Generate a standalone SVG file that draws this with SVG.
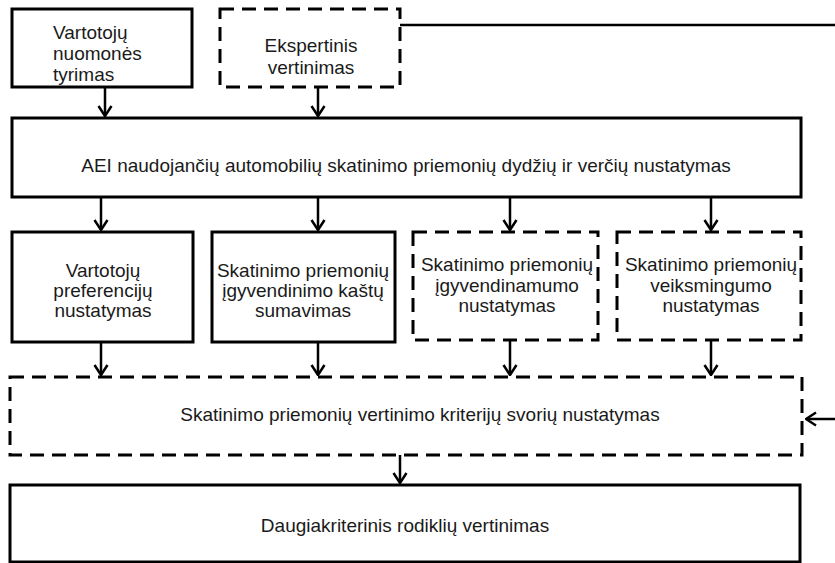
<svg xmlns="http://www.w3.org/2000/svg" width="835" height="563" viewBox="0 0 835 563">
  <style>
    .box { fill: #fff; stroke: #000; stroke-width: 3; }
    .dash { fill: #fff; stroke: #000; stroke-width: 3; stroke-dasharray: 14 8; }
    .lbl { font-family: "Liberation Sans", Arial, sans-serif; font-size: 19px; fill: #1a1a1a; }
    .mid { text-anchor: middle; }
    .conn { fill: none; stroke: #000; stroke-width: 2.5; }
  </style>
  <defs>
    <marker id="arr" viewBox="0 0 12 16" refX="11" refY="8" markerWidth="12" markerHeight="16" orient="auto" markerUnits="userSpaceOnUse">
      <path d="M1,1.5 L11,8 L1,14.5" fill="none" stroke="#000" stroke-width="2.5"/>
    </marker>
  </defs>
  <rect width="835" height="563" fill="#fff"/>

  <g id="consumer-survey">
    <rect class="box" x="12" y="9" width="180" height="78"/>
    <text class="lbl" x="53" y="39">Vartotojų</text>
    <text class="lbl" x="53" y="60">nuomonės</text>
    <text class="lbl" x="53" y="81">tyrimas</text>
  </g>

  <g id="expert-evaluation">
    <rect class="dash" x="220" y="9" width="180" height="78"/>
    <text class="lbl mid" x="311" y="52">Ekspertinis</text>
    <text class="lbl mid" x="311" y="74">vertinimas</text>
  </g>

  <g id="measures-values">
    <rect class="box" x="12" y="118" width="789" height="79"/>
    <text class="lbl mid" x="406" y="172">AEI naudojančių automobilių skatinimo priemonių dydžių ir verčių nustatymas</text>
  </g>

  <g id="consumer-preferences">
    <rect class="box" x="12" y="232" width="181" height="110"/>
    <text class="lbl mid" x="103" y="277">Vartotojų</text>
    <text class="lbl mid" x="103" y="297">preferencijų</text>
    <text class="lbl mid" x="103" y="317">nustatymas</text>
  </g>

  <g id="cost-summation">
    <rect class="box" x="212" y="232" width="183" height="110"/>
    <text class="lbl mid" x="303" y="277">Skatinimo priemonių</text>
    <text class="lbl mid" x="303" y="297">įgyvendinimo kaštų</text>
    <text class="lbl mid" x="303" y="317">sumavimas</text>
  </g>

  <g id="feasibility">
    <rect class="dash" x="413" y="232" width="185" height="108"/>
    <text class="lbl mid" x="507" y="271">Skatinimo priemonių</text>
    <text class="lbl mid" x="507" y="292">įgyvendinamumo</text>
    <text class="lbl mid" x="507" y="312">nustatymas</text>
  </g>

  <g id="effectiveness">
    <rect class="dash" x="617" y="232" width="184" height="108"/>
    <text class="lbl mid" x="711" y="271">Skatinimo priemonių</text>
    <text class="lbl mid" x="711" y="292">veiksmingumo</text>
    <text class="lbl mid" x="711" y="312">nustatymas</text>
  </g>

  <g id="criteria-weights">
    <rect class="dash" x="10" y="377" width="792" height="78"/>
    <text class="lbl mid" x="420" y="421">Skatinimo priemonių vertinimo kriterijų svorių nustatymas</text>
  </g>

  <g id="multicriteria">
    <rect class="box" x="10" y="485" width="790" height="77"/>
    <text class="lbl mid" x="405" y="532">Daugiakriterinis rodiklių vertinimas</text>
  </g>

  <g id="connectors">
    <path class="conn" d="M105,87 V116" marker-end="url(#arr)"/>
    <path class="conn" d="M318,87 V116" marker-end="url(#arr)"/>
    <path class="conn" d="M400,25 H835"/>
    <path class="conn" d="M101,197 V230" marker-end="url(#arr)"/>
    <path class="conn" d="M318,197 V230" marker-end="url(#arr)"/>
    <path class="conn" d="M510,197 V230" marker-end="url(#arr)"/>
    <path class="conn" d="M711,197 V230" marker-end="url(#arr)"/>
    <path class="conn" d="M101,342 V375" marker-end="url(#arr)"/>
    <path class="conn" d="M318,342 V375" marker-end="url(#arr)"/>
    <path class="conn" d="M510,340 V375" marker-end="url(#arr)"/>
    <path class="conn" d="M711,340 V375" marker-end="url(#arr)"/>
    <path class="conn" d="M400,455 V483" marker-end="url(#arr)"/>
    <path class="conn" d="M835,419 H806" marker-end="url(#arr)"/>
  </g>
</svg>
